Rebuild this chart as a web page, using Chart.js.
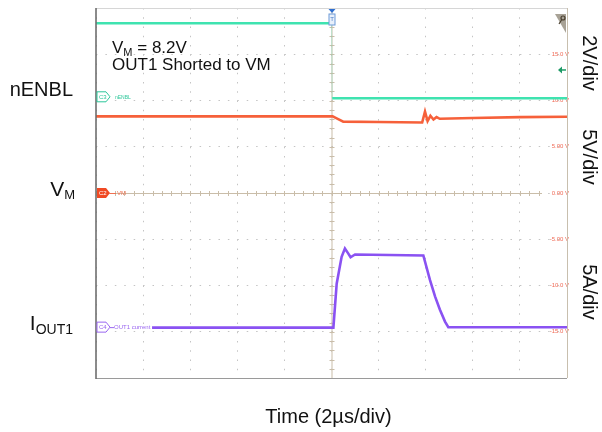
<!DOCTYPE html>
<html lang="en">
<head>
<meta charset="UTF-8">
<title>OUT1 Shorted to VM</title>
<script src="https://cdn.jsdelivr.net/npm/chart.js@4.4.0/dist/chart.umd.min.js"></script>
<style>
  body { margin: 0; background: #fff; }
  canvas { display: block; }
</style>
</head>
<body>
<canvas id="scope" width="602" height="432"></canvas>
<script>
// time in microseconds, 2 us/div, trigger at 0
const timeTicks = [-10, -8, -6, -4, -2, 0, 2, 4, 6, 8, 10];
// scope's right-hand scale, 5 V/div
const voltTicks = [-20, -15, -10, -5, 0, 5, 10, 15, 20];
const voltTickLabels = ['', '-15.0 V', '-10.0 V', '-5.00 V', '0.00 V', '5.00 V', '10.0 V', '15.0 V', ''];

// C3 nENBL
const nenblTime = [-10, 0, 0.03, 10];
const nenblLevel = [18.35, 18.35, 10.25, 10.25];

// C2 VM
const vmTime = [-10, 0.05, 0.2, 0.5, 2, 3.85, 3.97, 4.08, 4.2, 4.33, 4.46, 4.6, 6, 8, 10];
const vmLevel = [8.28, 8.28, 8.1, 7.72, 7.68, 7.62, 8.8, 7.78, 8.35, 7.95, 8.2, 8.02, 8.1, 8.2, 8.25];

// C4 OUT1 current
const ioutTime = [-7.62, 0.08, 0.22, 0.43, 0.57, 0.7, 0.81, 1.0, 3.9, 4.18, 4.4, 4.6, 4.82, 4.96, 10];
const ioutLevel = [-14.55, -14.55, -9.8, -6.9, -6.0, -6.5, -6.95, -6.65, -6.75, -9.4, -11.2, -12.6, -13.9, -14.5, -14.52];

// channel ground markers on the left edge
const markerLevels = [10.4, 0, -14.5];

const FONT = '"Liberation Sans", Arial, sans-serif';

function toPoints(xs, ys) {
    return xs.map((x, i) => ({ x: x, y: ys[i] }));
}

// the fast nENBL edge barely shows on the scope
function isEdge(seg) {
    return Math.abs(seg.p1.parsed.x - seg.p0.parsed.x) < 0.1 && Math.abs(seg.p1.parsed.y - seg.p0.parsed.y) > 2;
}

function tag(ctx, x, y, color, filled, label) {
    ctx.save();
    ctx.beginPath();
    ctx.moveTo(x, y - 5);
    ctx.lineTo(x + 9, y - 5);
    ctx.lineTo(x + 13, y);
    ctx.lineTo(x + 9, y + 5);
    ctx.lineTo(x, y + 5);
    ctx.closePath();
    if (filled) {
        ctx.fillStyle = color;
        ctx.fill();
    } else {
        ctx.fillStyle = '#fff';
        ctx.fill();
        ctx.strokeStyle = color;
        ctx.lineWidth = 1;
        ctx.stroke();
    }
    ctx.fillStyle = filled ? '#fff' : color;
    ctx.font = '6px ' + FONT;
    ctx.textBaseline = 'middle';
    ctx.fillText(label, x + 2, y + 0.5);
    ctx.restore();
}

function subText(ctx, parts, x, baseline, align) {
    // parts: [text, size, dy]
    let total = 0;
    parts.forEach(p => { ctx.font = p[1] + 'px ' + FONT; total += ctx.measureText(p[0]).width; });
    let cx = align === 'right' ? x - total : x;
    parts.forEach(p => {
        ctx.font = p[1] + 'px ' + FONT;
        ctx.fillText(p[0], cx, baseline + p[2]);
        cx += ctx.measureText(p[0]).width;
    });
}

const scopeDecor = {
    id: 'scopeDecor',
    beforeDatasetsDraw(chart) {
        const ctx = chart.ctx;
        const a = chart.chartArea;
        const xs = chart.scales.x, ys = chart.scales.y;
        const x0 = xs.getPixelForValue(0), y0 = ys.getPixelForValue(0);
        ctx.save();
        ctx.strokeStyle = '#c9bda9';
        ctx.lineWidth = 1;
        ctx.beginPath();
        ctx.moveTo(a.left, y0 + 0.5);
        ctx.lineTo(a.right - 25, y0 + 0.5);
        ctx.moveTo(x0 + 0.5, a.top);
        ctx.lineTo(x0 + 0.5, a.bottom);
        // minor ticks, 5 per division
        for (let t = -10; t <= 10.001; t += 0.4) {
            const px = Math.round(xs.getPixelForValue(t)) + 0.5;
            if (px > a.right - 25) continue;
            ctx.moveTo(px, y0 - 2);
            ctx.lineTo(px, y0 + 3);
        }
        for (let v = -20; v <= 20.001; v += 1) {
            const py = Math.round(ys.getPixelForValue(v)) + 0.5;
            ctx.moveTo(x0 - 2, py);
            ctx.lineTo(x0 + 3, py);
        }
        ctx.stroke();
        ctx.restore();
    },
    afterDraw(chart) {
        const ctx = chart.ctx;
        const a = chart.chartArea;
        const xs = chart.scales.x, ys = chart.scales.y;
        const x0 = xs.getPixelForValue(0);
        ctx.save();

        // frame
        ctx.lineWidth = 1;
        ctx.strokeStyle = '#d6d6d6';
        ctx.beginPath(); ctx.moveTo(a.left, a.top + 0.5); ctx.lineTo(a.right, a.top + 0.5); ctx.stroke();
        ctx.strokeStyle = '#c8bfae';
        ctx.beginPath(); ctx.moveTo(a.right + 0.5, a.top); ctx.lineTo(a.right + 0.5, a.bottom); ctx.stroke();
        ctx.strokeStyle = '#9a9a9a';
        ctx.beginPath(); ctx.moveTo(a.left, a.bottom + 0.5); ctx.lineTo(a.right, a.bottom + 0.5); ctx.stroke();
        ctx.strokeStyle = '#6e6e6e';
        ctx.lineWidth = 1.6;
        ctx.beginPath(); ctx.moveTo(a.left, a.top); ctx.lineTo(a.left, a.bottom + 1); ctx.stroke();

        // trigger marker
        ctx.fillStyle = '#2f6fd0';
        ctx.beginPath();
        ctx.moveTo(x0 - 3, a.top + 1); ctx.lineTo(x0 + 4, a.top + 1); ctx.lineTo(x0 + 0.5, a.top + 5);
        ctx.closePath(); ctx.fill();
        ctx.fillStyle = '#e8f0fb';
        ctx.strokeStyle = '#6c9ad8';
        ctx.lineWidth = 1;
        ctx.fillRect(x0 - 2.5, a.top + 6, 6, 11);
        ctx.strokeRect(x0 - 2.5, a.top + 6, 6, 11);
        ctx.fillStyle = '#4a7cc8';
        ctx.font = '6px ' + FONT;
        ctx.textAlign = 'center';
        ctx.textBaseline = 'middle';
        ctx.fillText('T', x0 + 0.5, a.top + 11.5);

        // zoom corner
        ctx.fillStyle = '#a8a296';
        ctx.beginPath();
        ctx.moveTo(a.right - 12, a.top + 6); ctx.lineTo(a.right - 1, a.top + 6); ctx.lineTo(a.right - 1, a.top + 25);
        ctx.closePath(); ctx.fill();
        ctx.strokeStyle = '#4a4030';
        ctx.lineWidth = 1.2;
        ctx.beginPath(); ctx.arc(a.right - 4, a.top + 10, 2, 0, Math.PI * 2); ctx.stroke();
        ctx.beginPath(); ctx.moveTo(a.right - 5.5, a.top + 12); ctx.lineTo(a.right - 8, a.top + 16); ctx.stroke();

        // green offset arrow
        const ya = ys.getPixelForValue(13.3);
        ctx.strokeStyle = '#1e9a66';
        ctx.fillStyle = '#1e9a66';
        ctx.lineWidth = 1.5;
        ctx.beginPath(); ctx.moveTo(a.right - 1, ya); ctx.lineTo(a.right - 6, ya); ctx.stroke();
        ctx.beginPath(); ctx.moveTo(a.right - 9, ya); ctx.lineTo(a.right - 5, ya - 3.5); ctx.lineTo(a.right - 5, ya + 3.5);
        ctx.closePath(); ctx.fill();

        // channel markers
        ctx.textAlign = 'left';
        const yC3 = ys.getPixelForValue(markerLevels[0]);
        const yC2 = ys.getPixelForValue(markerLevels[1]);
        const yC4 = ys.getPixelForValue(markerLevels[2]);
        tag(ctx, a.left + 1, yC3, '#2cc79a', false, 'C3');
        tag(ctx, a.left + 1, yC2, '#f04a24', true, 'C2');
        tag(ctx, a.left + 1, yC4, '#9a66f0', false, 'C4');
        ctx.font = '5px ' + FONT;
        ctx.textBaseline = 'middle';
        ctx.fillStyle = '#2cc79a';
        ctx.fillText('nENBL', a.left + 19, yC3 + 0.5);
        ctx.strokeStyle = '#f07050';
        ctx.lineWidth = 1;
        ctx.beginPath(); ctx.moveTo(a.left + 14, yC2 + 0.5); ctx.lineTo(a.left + 20, yC2 + 0.5); ctx.stroke();
        ctx.fillStyle = '#f07050';
        ctx.font = '6px ' + FONT;
        ctx.fillText('VM', a.left + 21, yC2 + 0.5);
        ctx.strokeStyle = '#9a66f0';
        ctx.beginPath(); ctx.moveTo(a.left + 14, yC4 + 0.5); ctx.lineTo(a.left + 18, yC4 + 0.5); ctx.stroke();
        ctx.fillStyle = '#9a66f0';
        ctx.fillText('OUT1 current', a.left + 18, yC4 + 0.5);

        // note inside the plot
        ctx.fillStyle = '#111';
        ctx.textBaseline = 'alphabetic';
        subText(ctx, [['V', 17, 0], ['M', 11, 3], [' = 8.2V', 17, 0]], a.left + 16, a.top + 45, 'left');
        ctx.font = '17px ' + FONT;
        ctx.fillText('OUT1 Shorted to VM', a.left + 16, a.top + 62);

        // channel names on the left
        const lx = a.left - 23;
        subText(ctx, [['nENBL', 20, 0]], lx, yC3 - 1, 'right');
        subText(ctx, [['V', 21, 0], ['M', 13, 3]], lx + 2, yC2 + 3, 'right');
        subText(ctx, [['I', 21, 0], ['OUT1', 14, 4]], lx, yC4 + 3, 'right');

        // scale factors on the right, rotated
        const rx = a.right + 22;
        [[14.05, '2V/div'], [3.9, '5V/div'], [-10.7, '5A/div']].forEach(r => {
            ctx.save();
            ctx.translate(rx, ys.getPixelForValue(r[0]));
            ctx.rotate(Math.PI / 2);
            ctx.font = '20px ' + FONT;
            ctx.textAlign = 'center';
            ctx.textBaseline = 'middle';
            ctx.fillText(r[1], 0, 0);
            ctx.restore();
        });

        // time base
        ctx.font = '20px ' + FONT;
        ctx.textAlign = 'center';
        ctx.fillText('Time (2\u00b5s/div)', x0 - 3, a.bottom + 45);
        ctx.restore();
    }
};

new Chart(document.getElementById('scope'), {
    type: 'line',
    data: {
        datasets: [
            {
                label: 'nENBL',
                data: toPoints(nenblTime, nenblLevel),
                borderColor: '#3fe3b0',
                borderWidth: 2.6,
                segment: {
                    borderColor: seg => isEdge(seg) ? 'rgba(63,227,176,0.25)' : undefined,
                    borderWidth: seg => isEdge(seg) ? 1 : undefined
                }
            },
            { label: 'VM', data: toPoints(vmTime, vmLevel), borderColor: '#f6603a', borderWidth: 2.6 },
            { label: 'IOUT1', data: toPoints(ioutTime, ioutLevel), borderColor: '#8a52f2', borderWidth: 2.6 }
        ]
    },
    options: {
        responsive: false,
        animation: false,
        devicePixelRatio: 1,
        layout: { padding: { left: 96, right: 31, top: 8, bottom: 54 } },
        elements: { point: { radius: 0 }, line: { tension: 0 } },
        plugins: { legend: { display: false }, tooltip: { enabled: false } },
        scales: {
            x: {
                type: 'linear',
                min: -10,
                max: 10,
                afterBuildTicks: axis => { axis.ticks = timeTicks.map(v => ({ value: v })); },
                ticks: { display: false },
                grid: { color: '#c4c4c4', lineWidth: 1, drawTicks: false },
                border: { display: false, dash: [1.5, 7.75] }
            },
            y: {
                type: 'linear',
                position: 'right',
                min: -20,
                max: 20,
                afterBuildTicks: axis => { axis.ticks = voltTicks.map(v => ({ value: v })); },
                ticks: {
                    mirror: true,
                    padding: 2,
                    color: '#f06a55',
                    font: { size: 6, family: FONT },
                    callback: (v) => voltTickLabels[voltTicks.indexOf(v)]
                },
                grid: { color: '#c4c4c4', lineWidth: 1, drawTicks: false },
                border: { display: false, dash: [1.5, 7.92] }
            }
        }
    },
    plugins: [scopeDecor]
});
</script>
</body>
</html>
